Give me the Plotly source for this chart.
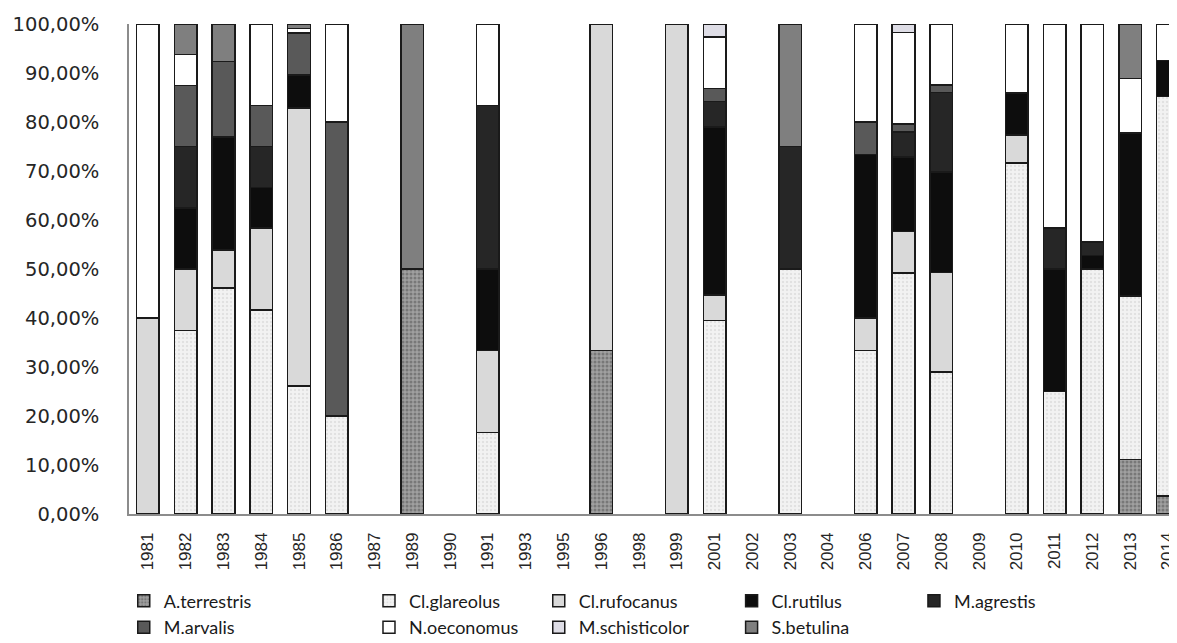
import plotly.graph_objects as go

years = ['1981', '1982', '1983', '1984', '1985', '1986', '1987', '1989', '1990', '1991',
         '1993', '1995', '1996', '1998', '1999', '2001', '2002', '2003', '2004', '2006',
         '2007', '2008', '2009', '2010', '2011', '2012', '2013', '2014']

N = None
#                1981  1982   1983   1984   1985  1986 1987 1989 1990 1991   1993 1995 1996   1998 1999 2001   2002 2003 2004 2006   2007   2008  2009 2010  2011  2012   2013   2014
a_terrestris   = [N,    N,     N,     N,     N,    N,   N,   50,  N,   N,     N,   N,   33.33, N,   N,   N,     N,   N,   N,   N,     N,     N,    N,   N,    N,    N,     11.11, 3.70]
cl_glareolus   = [N,    37.5,  46.15, 41.67, 26.1, 20,  N,   N,   N,   16.67, N,   N,   N,     N,   N,   39.47, N,   50,  N,   33.33, 49.15, 29.0, N,   71.6, 25,   50,    33.33, 81.48]
cl_rufocanus   = [40,   12.5,  7.69,  16.67, 56.8, N,   N,   N,   N,   16.67, N,   N,   66.67, N,   100, 5.26,  N,   N,   N,   6.67,  8.47,  20.3, N,   5.7,  N,    N,     N,     N]
cl_rutilus     = [N,    12.5,  23.08, 8.33,  6.7,  N,   N,   N,   N,   16.67, N,   N,   N,     N,   N,   34.21, N,   N,   N,   33.33, 15.25, 20.5, N,   8.6,  25,   2.78,  33.33, 7.41]
m_agrestis     = [N,    12.5,  N,     8.33,  N,    N,   N,   N,   N,   33.33, N,   N,   N,     N,   N,   5.26,  N,   25,  N,   N,     5.08,  16.2, N,   N,    8.33, 2.78,  N,     N]
m_arvalis      = [N,    12.5,  15.38, 8.33,  8.6,  60,  N,   N,   N,   N,     N,   N,   N,     N,   N,   2.63,  N,   N,   N,   6.67,  1.69,  1.6,  N,   N,    N,    N,     N,     N]
n_oeconomus    = [60,   6.25,  N,     16.67, 0.9,  20,  N,   N,   N,   16.67, N,   N,   N,     N,   N,   10.53, N,   N,   N,   20,    18.64, 12.4, N,   14.1, 41.67, 44.44, 11.11, 7.41]
m_schisticolor = [N,    N,     N,     N,     N,    N,   N,   N,   N,   N,     N,   N,   N,     N,   N,   2.63,  N,   N,   N,   N,     1.69,  N,    N,   N,    N,    N,     N,     N]
s_betulina     = [N,    6.25,  7.69,  N,     0.9,  N,   N,   50,  N,   N,     N,   N,   N,     N,   N,   N,     N,   25,  N,   N,     N,     N,    N,   N,    N,    N,     11.11, N]

series_names = ['A.terrestris', 'Cl.glareolus', 'Cl.rufocanus', 'Cl.rutilus', 'M.agrestis',
                'M.arvalis', 'N.oeconomus', 'M.schisticolor', 'S.betulina']
series_values = [a_terrestris, cl_glareolus, cl_rufocanus, cl_rutilus, m_agrestis,
                 m_arvalis, n_oeconomus, m_schisticolor, s_betulina]

# styles
fills = ['#a6a6a6', '#eeeeee', '#d9d9d9', '#0d0d0d', '#262626',
         '#595959', '#ffffff', '#dedde6', '#7f7f7f']
patterns = [dict(shape='.', bgcolor='#a0a0a0', fgcolor='#505050', size=4, solidity=0.45),
            dict(shape='.', bgcolor='#f2f2f2', fgcolor='#cfcfcf', size=4, solidity=0.3),
            None, None, None, None, None, None, None]
legend_ids = ['legend', 'legend2', 'legend3', 'legend4', 'legend5',
              'legend', 'legend2', 'legend3', 'legend4']

fig = go.Figure()
for name, vals, fill, pat, lg in zip(series_names, series_values, fills, patterns, legend_ids):
    marker = dict(color=fill, line=dict(color='#1a1a1a', width=1.5))
    if pat is not None:
        marker['pattern'] = pat
    fig.add_trace(go.Bar(
        x=years,
        y=[None if v is None else v / 100 for v in vals],
        name=name,
        marker=marker,
        legend=lg,
    ))

legend_style = dict(orientation='v', yanchor='top', xanchor='left', traceorder='normal',
                    font=dict(family='Lato', size=18, color='#1a1a1a'),
                    bgcolor='rgba(0,0,0,0)', itemwidth=30, tracegroupgap=0)
col_x = [-0.005, 0.229, 0.391, 0.575, 0.749]
legend_y = -0.14

layout_legends = {}
for i, lid in enumerate(['legend', 'legend2', 'legend3', 'legend4', 'legend5']):
    layout_legends[lid] = dict(legend_style, x=col_x[i], y=legend_y)

# The page body adds an 8px offset; figure is sized to fit the window.
fig.update_layout(
    width=1169, height=635,
    barmode='stack',
    bargap=0.4,
    separators=', ',
    plot_bgcolor='white',
    paper_bgcolor='white',
    margin=dict(l=121, r=0, t=16, b=129, autoexpand=False),
    showlegend=True,
    xaxis=dict(
        type='category',
        categoryorder='array', categoryarray=years,
        range=[-0.5, 27.24],
        tickangle=-90,
        tickfont=dict(family='Liberation Sans', size=17, color='#262626'),
        ticklabeloverflow='allow',
        showline=True, linecolor='#8c8c8c', linewidth=1.5,
        ticks='outside', ticklen=10, tickcolor='rgba(0,0,0,0)',
        showgrid=False, zeroline=False, automargin=False,
    ),
    yaxis=dict(
        range=[0, 1],
        tickvals=[i / 10 for i in range(11)],
        tickformat='.2%',
        tickfont=dict(family='DejaVu Sans', size=19.5, color='#262626'),
        showline=True, linecolor='#8c8c8c', linewidth=1.5,
        ticks='outside', ticklen=24, tickcolor='rgba(0,0,0,0)',
        showgrid=False, zeroline=False, automargin=False,
    ),
    **layout_legends,
)

fig.write_html('out.html')
